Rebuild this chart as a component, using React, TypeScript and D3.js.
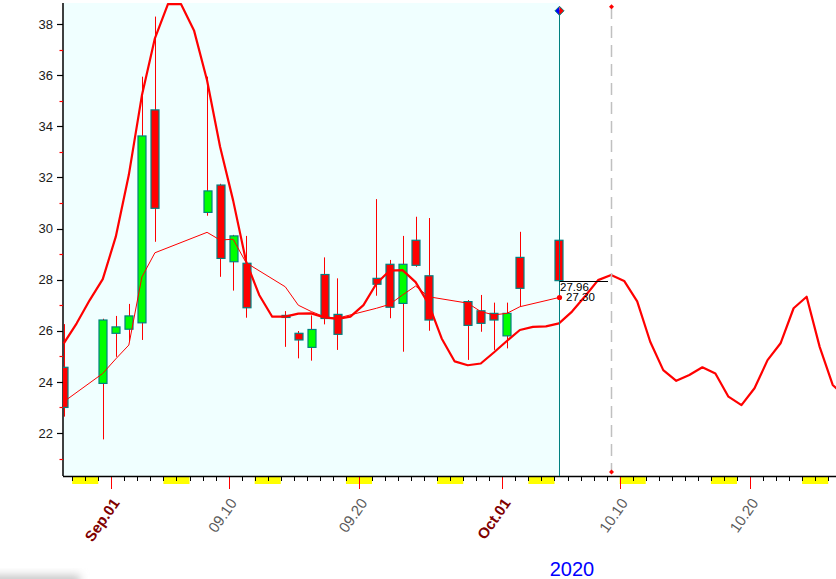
import React from 'react';
import * as d3 from 'd3';

// ---- data ----
const candleDates = [
  '2020-08-28', '2020-08-31', '2020-09-01', '2020-09-02', '2020-09-03', '2020-09-04',
  '2020-09-08', '2020-09-09', '2020-09-10', '2020-09-11', '2020-09-14', '2020-09-15',
  '2020-09-16', '2020-09-17', '2020-09-18', '2020-09-21', '2020-09-22', '2020-09-23',
  '2020-09-24', '2020-09-25', '2020-09-28', '2020-09-29', '2020-09-30', '2020-10-01',
  '2020-10-02', '2020-10-05',
];
const openVals = [24.57, 23.94, 25.9, 26.06, 26.31, 34.64, 30.63, 31.7, 28.7, 28.64, 26.6, 25.9, 25.35, 28.2, 26.64, 28.05, 28.6, 27.07, 29.54, 28.15, 27.14, 26.78, 26.68, 25.8, 28.87, 29.54];
const highVals = [26.26, 26.47, 26.58, 27.05, 35.94, 38.29, 35.94, 31.75, 29.75, 29.71, 26.77, 25.99, 26.6, 28.87, 28.05, 31.15, 28.77, 29.71, 30.46, 30.41, 27.2, 27.4, 27.1, 27.1, 29.87, 29.54];
const lowVals = [22.64, 21.75, 24.98, 25.6, 25.64, 29.48, 30.5, 28.11, 27.57, 26.51, 25.37, 24.92, 24.83, 26.25, 25.25, 27.37, 26.49, 25.18, 28.5, 26.0, 24.86, 25.96, 25.25, 25.31, 26.94, 27.96];
const closeVals = [23.0, 26.42, 26.15, 26.58, 33.62, 30.79, 31.47, 28.83, 29.71, 26.9, 26.52, 25.64, 26.05, 26.48, 25.86, 27.82, 26.92, 28.6, 28.56, 26.42, 26.21, 26.29, 26.42, 26.68, 27.66, 27.96];
const maVals = [23.22, 24.33, 24.9, 25.44, 28.1, 29.05, 29.85, 29.55, 29.58, 28.66, 27.72, 27.0, 26.75, 26.55, 26.49, 26.88, 27.03, 27.4, 27.75, 27.33, 27.08, 26.75, 26.62, 26.68, 26.94, 27.3];

// daily cycle line, starting 2020-08-28
const cycleStart = '2020-08-28';
const cycleVals = [
  25.5, 26.29, 27.2, 28.02, 29.68, 32.1, 35.2, 37.44, 38.78, 38.78, 37.75, 35.8, 33.2, 31.1, 28.7, 27.4,
  26.55, 26.55, 26.67, 26.68, 26.52, 26.46, 26.55, 27.0, 27.85, 28.35, 28.37, 27.9, 27.05, 25.7, 24.8,
  24.65, 24.72, 25.15, 25.6, 26.03, 26.15, 26.17, 26.29, 26.75, 27.35, 27.98, 28.18, 27.95, 27.15, 25.57,
  24.46, 24.04, 24.27, 24.57, 24.33, 23.42, 23.09, 23.75, 24.85, 25.51, 26.88, 27.33, 25.37, 23.88, 23.4,
];

const majorTickDates = ['2020-09-01', '2020-09-10', '2020-09-20', '2020-10-01', '2020-10-10', '2020-10-20'];
const majorTickLabels = ['Sep.01', '09.10', '09.20', 'Oct.01', '10.10', '10.20'];
const majorTickBold = [true, false, false, true, false, false];
const yMajorTicks = [22, 24, 26, 28, 30, 32, 34, 36, 38];
const yMinorTicks = [21, 23, 25, 27, 29, 31, 33, 35, 37];
const lastCloseLabel = '27.96';
const lastMALabel = '27.30';
const lastClose = 27.96;
const lastMA = 27.3;
const markerDate = '2020-10-09';
const yearLabel = '2020';

const W = 836;
const H = 579;
const left = 63;
const right = 836;
const top = 3;
const bottom = 476;

const parse = (s: string) => new Date(s + 'T00:00:00Z');

export default function App() {
  const x = d3.scaleUtc().domain([parse('2020-09-01'), parse('2020-10-20')]).range([111.3, 750]);
  const y = d3.scaleLinear().domain([22, 38]).range([433, 24]);
  const half = 4.5;
  const cx = (d: Date) => x(d) + half;

  const candles = candleDates.map((s, i) => ({
    d: parse(s), o: openVals[i], h: highVals[i], l: lowVals[i], c: closeVals[i], ma: maVals[i],
  }));
  const cs = parse(cycleStart);
  const cycle = cycleVals.map((v, i) => ({ d: d3.utcDay.offset(cs, i), v }));

  const days = d3.utcDay.range(parse('2020-08-29'), parse('2020-10-27'));
  const weekends = days.filter((d) => d.getUTCDay() === 6);

  const lastD = parse(candleDates[candleDates.length - 1]);
  const lastX = Math.round(cx(lastD)) + 0.5;
  const markX = Math.round(cx(parse(markerDate))) + 0.5;

  const lineCycle = d3.line<{ d: Date; v: number }>().x((p) => cx(p.d)).y((p) => y(p.v));
  const lineMA = d3.line<any>().x((p) => cx(p.d)).y((p) => y(p.ma));

  const font = 'Liberation Sans, Arial, sans-serif';

  return (
    <svg width={W} height={H} style={{ position: 'absolute', left: 0, top: 0, background: '#fff' }} fontFamily={font}>
      <defs>
        <clipPath id="plotclip">
          <rect x={left} y={top} width={right - left} height={bottom - top} />
        </clipPath>
        <filter id="blur" x="-50%" y="-50%" width="200%" height="200%">
          <feGaussianBlur stdDeviation="4" />
        </filter>
      </defs>
      <rect x={-30} y={575} width={110} height={14} fill="#c8c8c8" filter="url(#blur)" />
      {/* history background */}
      <rect x={left} y={top} width={lastX - left} height={bottom - top} fill="#F0FFFF" />

      {/* weekend marks */}
      {weekends.map((d, i) => (
        <rect key={'w' + i} x={x(d)} y={477} width={x(d3.utcDay.offset(d, 2)) - x(d)} height={7} fill="#FFFF00" />
      ))}
      {/* daily ticks */}
      {days.map((d, i) => {
        const major = d.getUTCDate() === 1 || d.getUTCDate() === 10 || d.getUTCDate() === 20;
        const xx = Math.round(x(d)) + 0.5;
        return major ? null : <line key={'t' + i} x1={xx} x2={xx} y1={476} y2={481} stroke="#000" strokeWidth={1} />;
      })}
      {majorTickDates.map((s, i) => {
        const xx = Math.round(x(parse(s))) + 0.5;
        return <line key={'mt' + i} x1={xx} x2={xx} y1={476} y2={489} stroke="#FF0000" strokeWidth={1} />;
      })}
      {majorTickDates.map((s, i) => (
        <text
          key={'ml' + i}
          transform={`translate(${x(parse(s)) + 9},503) rotate(-55)`}
          textAnchor="end"
          fontSize={15}
          fontWeight={majorTickBold[i] ? 'bold' : 'normal'}
          fill={majorTickBold[i] ? '#800000' : '#5a5a5a'}
        >
          {majorTickLabels[i]}
        </text>
      ))}
      <text x={572} y={576} textAnchor="middle" fontSize={20} fill="#0000FF">{yearLabel}</text>

      {/* axes */}
      <line x1={left} x2={right} y1={bottom + 0.5} y2={bottom + 0.5} stroke="#000" strokeWidth={1.5} />
      <line x1={left} x2={left} y1={top} y2={bottom} stroke="#000" strokeWidth={1.5} />
      {yMajorTicks.map((v) => (
        <g key={'ym' + v}>
          <line x1={57} x2={left} y1={Math.round(y(v)) + 0.5} y2={Math.round(y(v)) + 0.5} stroke="#000" strokeWidth={1.2} />
          <text x={53} y={y(v)} dy="0.36em" textAnchor="end" fontSize={13} fill="#1a1a1a">{v}</text>
        </g>
      ))}
      {yMinorTicks.map((v) => (
        <line key={'yn' + v} x1={59.5} x2={left} y1={Math.round(y(v)) + 0.5} y2={Math.round(y(v)) + 0.5} stroke="#FF0000" strokeWidth={1.2} />
      ))}

      {/* candles */}
      <g clipPath="url(#plotclip)">
        {candles.map((c, i) => {
          const xc = Math.round(cx(c.d)) + 0.5;
          return <line key={'wk' + i} x1={xc} x2={xc} y1={y(c.h)} y2={y(c.l)} stroke="#FF0000" strokeWidth={1} />;
        })}
        {candles.map((c, i) => {
          const x0 = Math.round(x(c.d)) + 1;
          const yt = y(Math.max(c.o, c.c));
          const yb = y(Math.min(c.o, c.c));
          return (
            <rect
              key={'b' + i}
              x={x0}
              y={yt}
              width={8}
              height={Math.max(1, yb - yt)}
              fill={c.c >= c.o ? '#00FF00' : '#FF0000'}
              stroke="#008080"
              strokeWidth={1.2}
            />
          );
        })}
        <path d={lineMA(candles) || ''} fill="none" stroke="#FF0000" strokeWidth={1} />
        <path d={lineCycle(cycle) || ''} fill="none" stroke="#FF0000" strokeWidth={2.2} strokeLinejoin="round" />
      </g>

      {/* current day line */}
      <line x1={lastX} x2={lastX} y1={10} y2={bottom} stroke="#008080" strokeWidth={1} />
      <path d={`M${lastX - 4.5},10.8 L${lastX},6.3 L${lastX},15.3 Z`} fill="#0000FF" />
      <path d={`M${lastX + 4.5},10.8 L${lastX},6.3 L${lastX},15.3 Z`} fill="#FF0000" />
      <path d={`M${lastX - 4.5},10.8 L${lastX},6.3 L${lastX + 4.5},10.8 L${lastX},15.3 Z`} fill="none" stroke="#008080" strokeWidth={1} />

      {/* forecast marker line */}
      <line x1={markX} x2={markX} y1={7} y2={472} stroke="#C0C0C0" strokeWidth={1.5} strokeDasharray="12,7" />
      <path d={`M${markX - 2.5},6.7 L${markX},4.2 L${markX + 2.5},6.7 L${markX},9.2 Z`} fill="#FF0000" />
      <path d={`M${markX - 2.5},472 L${markX},469.5 L${markX + 2.5},472 L${markX},474.5 Z`} fill="#FF0000" />

      {/* last values */}
      <line x1={lastX} x2={608} y1={Math.round(y(lastClose)) + 0.5} y2={Math.round(y(lastClose)) + 0.5} stroke="#000" strokeWidth={1} />
      <text x={560} y={290.5} fontSize={11.5} fill="#000">{lastCloseLabel}</text>
      <circle cx={lastX} cy={y(lastMA)} r={2.6} fill="#FF0000" />
      <text x={566} y={300.5} fontSize={11.5} fill="#000">{lastMALabel}</text>
    </svg>
  );
}
